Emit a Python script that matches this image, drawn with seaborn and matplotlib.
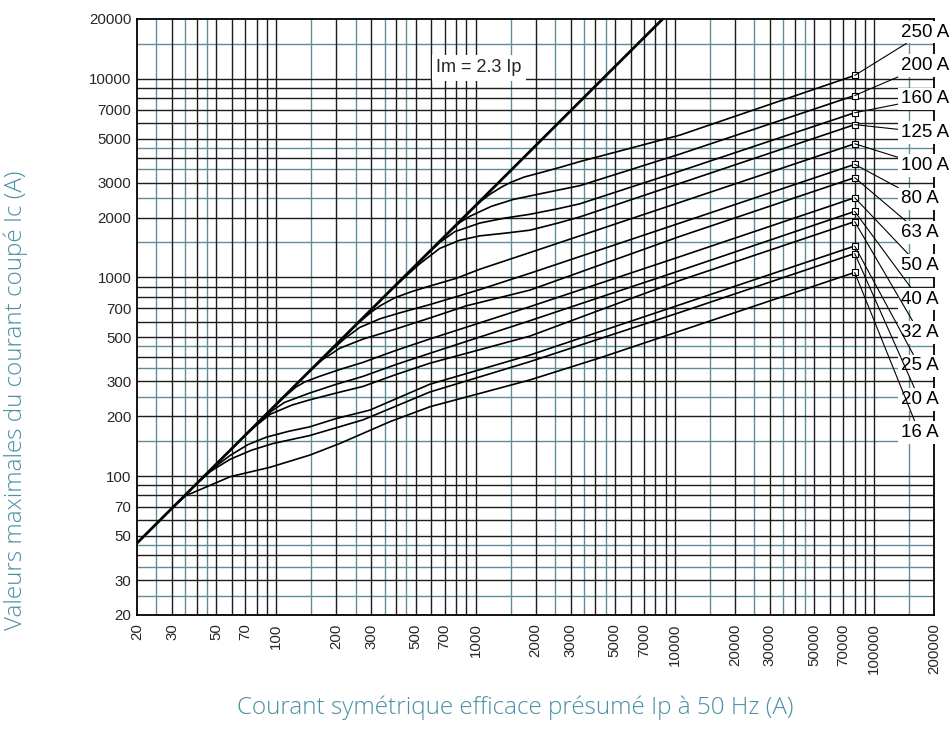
import matplotlib
matplotlib.use('Agg')
import matplotlib.pyplot as plt
import pandas as pd
import seaborn as sns

# --- data ---------------------------------------------------------------
ratings = ['16 A', '20 A', '25 A', '32 A', '40 A', '50 A', '63 A',
           '80 A', '100 A', '125 A', '160 A', '200 A', '250 A']

# marker (end of each curve) at Ip = 80000 A
marker_ip = 80000
marker_ic = [1060, 1320, 1440, 1910, 2150, 2520, 3180, 3710, 4710, 5880, 6750, 8240, 10400]

# line Im = 2.3 Ip
im_ip = [20, 8700]
im_ic = [46, 20010]

ip_16 = [30, 35.6, 37.8, 58.8, 93, 148, 209, 372, 591, 1053, 1876, 4216, 80000]
ic_16 = [69, 80.6, 82.2, 99.4, 110.8, 127.8, 146.2, 188, 223.6, 261, 305, 394, 1060]
ip_20 = [41.4, 47, 58.6, 75, 96.3, 147, 272.6, 589, 1876, 10620, 80000]
ic_20 = [95.2, 106, 121.5, 135, 146, 160, 192, 265, 377, 667, 1320]
ip_25 = [41.4, 49, 58.6, 72, 89, 115, 147, 200, 295, 589, 1876, 10620, 80000]
ic_25 = [95.2, 111, 127, 144, 157, 168, 177, 195, 215, 290, 407, 729, 1440]
ip_32 = [69.4, 80, 93.3, 120, 147, 200, 273, 400, 589, 1876, 10620, 80000]
ic_32 = [159.7, 181, 205, 228, 242, 262, 283, 325, 370, 507, 967, 1910]
ip_40 = [77.9, 95, 110, 147, 200, 273, 400, 589, 1876, 10620, 80000]
ic_40 = [179, 213, 235, 262, 290, 318, 365, 415, 606, 1083, 2150]
ip_50 = [104, 125, 139, 165, 210, 273, 400, 589, 1876, 10620, 80000]
ic_50 = [239, 280, 298, 318, 345, 374, 430, 490, 713, 1273, 2520]
ip_63 = [139, 170, 208, 273, 332, 420, 589, 900, 1876, 10620, 80000]
ic_63 = [320, 385, 440, 490, 520, 560, 625, 720, 864, 1610, 3180]
ip_80 = [175, 222, 262, 332, 420, 589, 800, 1053, 1876, 10620, 80000]
ic_80 = [402.6, 495, 560, 620, 665, 730, 800, 870, 1050, 1879, 3710]
ip_100 = [247.6, 300, 332, 393, 480, 589, 800, 1050, 1876, 10620, 80000]
ic_100 = [569.5, 670, 720, 790, 850, 905, 990, 1100, 1335, 2388, 4710]
ip_125 = [371, 450, 524, 661, 833, 1053, 1400, 1876, 2600, 3346, 10620, 80000]
ic_125 = [853, 1020, 1170, 1400, 1540, 1620, 1670, 1730, 1880, 2019, 2977, 5880]
ip_160 = [524, 661, 786, 1053, 1400, 1876, 2600, 3346, 10620, 80000]
ic_160 = [1205, 1500, 1700, 1880, 1990, 2080, 2220, 2350, 3431, 6750]
ip_200 = [742, 833, 935, 1200, 1546, 2200, 3346, 10620, 80000]
ic_200 = [1707, 1890, 2030, 2280, 2470, 2660, 2900, 4180, 8240]
ip_250 = [935, 1053, 1179, 1350, 1490, 1750, 2106, 2700, 3346, 10620, 80000]
ic_250 = [2150, 2400, 2620, 2850, 3000, 3200, 3363, 3600, 3834, 5208, 10400]

x_ticks = [20, 30, 50, 70, 100, 200, 300, 500, 700, 1000, 2000, 3000, 5000, 7000,
           10000, 20000, 30000, 50000, 70000, 100000, 200000]
y_ticks = [20, 30, 50, 70, 100, 200, 300, 500, 700, 1000, 2000, 3000, 5000, 7000,
           10000, 20000]

curve_ip = [ip_16, ip_20, ip_25, ip_32, ip_40, ip_50, ip_63, ip_80, ip_100, ip_125, ip_160, ip_200, ip_250]
curve_ic = [ic_16, ic_20, ic_25, ic_32, ic_40, ic_50, ic_63, ic_80, ic_100, ic_125, ic_160, ic_200, ic_250]

rows = []
for name, xs, ys in zip(ratings, curve_ip, curve_ic):
    for a, b in zip(xs, ys):
        rows.append({'rating': name, 'ip': a, 'ic': b})
df = pd.DataFrame(rows)

# --- style ---------------------------------------------------------------
sns.set_style('white')
plt.rcParams['font.family'] = ['Liberation Sans', 'DejaVu Sans']

teal = '#5e8e98'
ink = '#1c1c1c'
label_col = '#4a90a4'

fig = plt.figure(figsize=(9.51, 7.46), dpi=100)
ax = fig.add_axes([137 / 951, 1 - 615 / 746, 797 / 951, 596 / 746])
ax.set_xscale('log')
ax.set_yscale('log')
ax.set_xlim(20, 200000)
ax.set_ylim(20, 20000)

# grid: black at 2..9 x 10^k, teal at 1.5, 2.5, 3.5, 4.5 x 10^k
for dec in [10, 100, 1000, 10000, 100000]:
    for m in [2, 3, 4, 5, 6, 7, 8, 9, 10]:
        v = m * dec
        if 20 < v < 200000:
            ax.axvline(v, color=ink, lw=1.0, zorder=1.2)
        if 20 < v < 20000:
            ax.axhline(v, color=ink, lw=1.0, zorder=1.2)
    for m in [1.5, 2.5, 3.5, 4.5]:
        v = m * dec
        if 20 < v < 200000:
            ax.axvline(v, color=teal, lw=1.0, zorder=1.0)
        if 20 < v < 20000:
            ax.axhline(v, color=teal, lw=1.0, zorder=1.0)

# curves
sns.lineplot(data=df, x='ip', y='ic', units='rating', estimator=None, sort=False,
             color='black', lw=1.2, ax=ax, zorder=3)
sns.lineplot(x=im_ip, y=im_ic, color='black', lw=2.0, ax=ax, zorder=3.5)
sns.scatterplot(x=[marker_ip] * len(marker_ic), y=marker_ic, marker='s', s=20,
                color='white', edgecolor='black', linewidth=0.8, ax=ax, zorder=4)

# labels on the right with leader lines
for i, (name, m) in enumerate(zip(ratings[::-1], marker_ic[::-1])):
    ax.annotate(name, xy=(marker_ip, m), xycoords='data',
                xytext=(0.958, 0.978 - i * 0.056), textcoords='axes fraction',
                ha='left', va='center', fontsize=13.5, color='black',
                bbox=dict(boxstyle='square,pad=0.15', fc='white', ec='none'),
                arrowprops=dict(arrowstyle='-', color='black', lw=0.8,
                                shrinkA=0, shrinkB=0),
                annotation_clip=False, zorder=5)

ax.text(0.429, 0.918, 'Im = 2.3 Ip', transform=ax.transAxes, ha='center', va='center',
        fontsize=13, bbox=dict(boxstyle='square,pad=0.25', fc='white', ec='none'), zorder=5)

ax.set_xticks(x_ticks, labels=[str(t) for t in x_ticks], rotation=90)
ax.set_yticks(y_ticks, labels=[str(t) for t in y_ticks])
ax.minorticks_off()
ax.tick_params(axis='both', length=0, labelsize=10.8)
ax.tick_params(axis='x', pad=6)
ax.tick_params(axis='y', pad=4)
ax.set_xlabel('')
ax.set_ylabel('')
for s in ax.spines.values():
    s.set_color('black')
    s.set_linewidth(1.3)

fig.text(16 / 951, 1 - 400 / 746, 'Valeurs maximales du courant coupé Ic (A)',
         rotation=90, ha='center', va='center', fontsize=17.5, color=label_col,
         family=['Open Sans', 'DejaVu Sans'], fontweight='light')
fig.text(515 / 951, 1 - 708 / 746, 'Courant symétrique efficace présumé Ip à 50 Hz (A)',
         ha='center', va='center', fontsize=17.5, color=label_col,
         family=['Open Sans', 'DejaVu Sans'], fontweight='light')

fig.savefig('out.png', dpi=100)
